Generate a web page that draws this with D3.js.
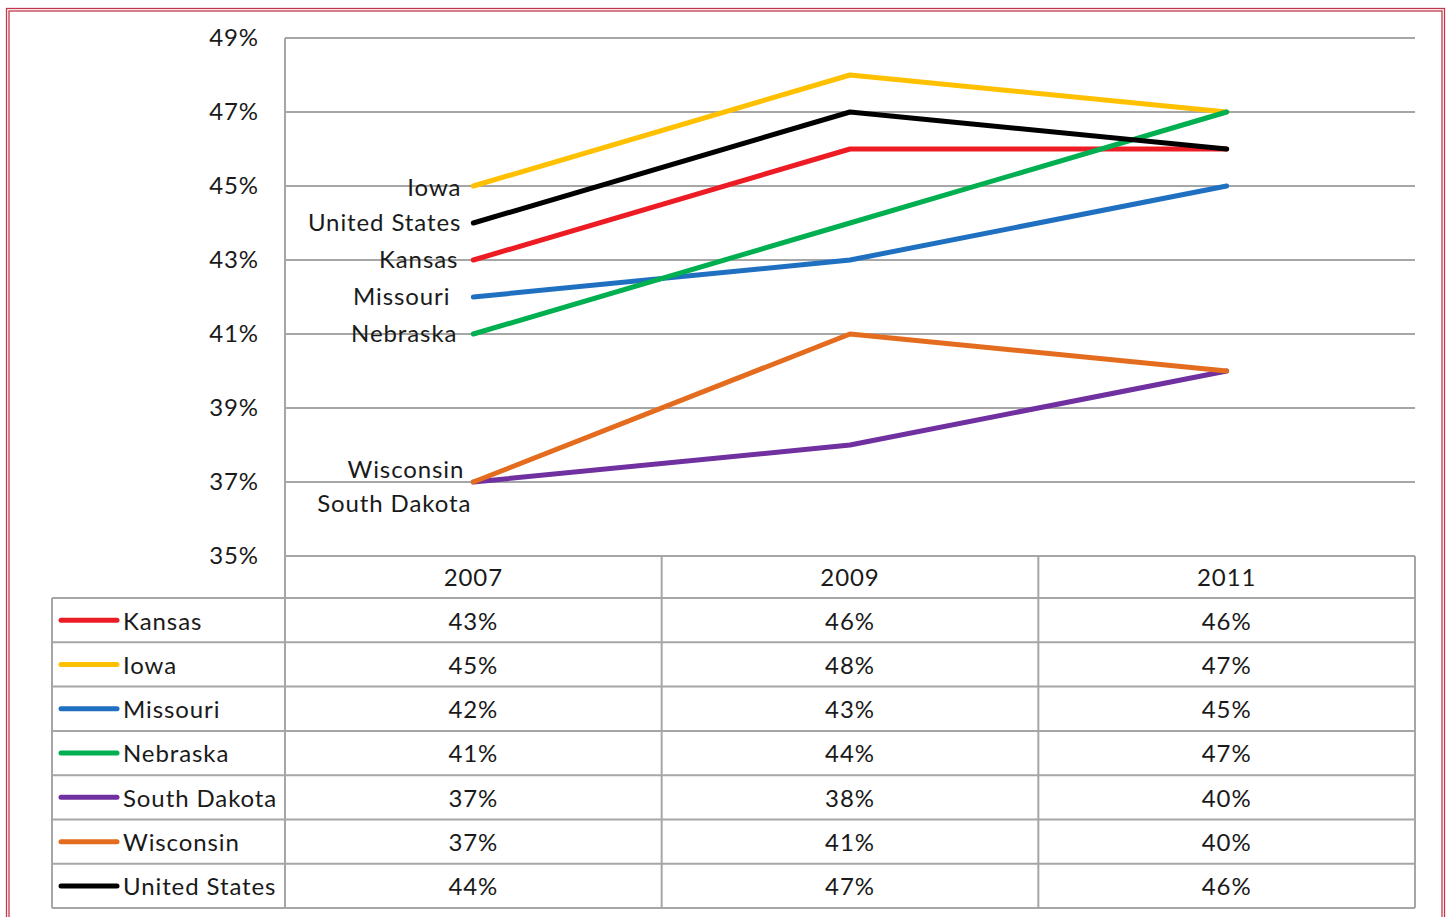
<!DOCTYPE html>
<html>
<head>
<meta charset="utf-8">
<script src="https://cdn.jsdelivr.net/npm/d3@7"></script>
<style>
  body { margin: 0; background: #fff; }
  text { font-family: Lato, "Open Sans", sans-serif; fill: #1a1a1a; font-size: 24px; letter-spacing: 0.9px; }
</style>
</head>
<body>
<svg id="chart" width="1448" height="917"></svg>
<script>
// data
var years = ["2007", "2009", "2011"];
var states = ["Kansas", "Iowa", "Missouri", "Nebraska", "South Dakota", "Wisconsin", "United States"];
var kansas = [43, 46, 46];
var iowa = [45, 48, 47];
var missouri = [42, 43, 45];
var nebraska = [41, 44, 47];
var southDakota = [37, 38, 40];
var wisconsin = [37, 41, 40];
var unitedStates = [44, 47, 46];
var colors = ["#ED1C24", "#FFC000", "#1F70C1", "#00B050", "#7030A0", "#E46C1E", "#000000"];
var yTicks = [35, 37, 39, 41, 43, 45, 47, 49];
// label nudges for the 2007 end labels [dx, dy]
var labelNudge = [[-15, 0], [-12, 2], [-23, 0], [-16, 0], [-2, 22], [-9, -12], [-12, 0]];

var series = [kansas, iowa, missouri, nebraska, southDakota, wisconsin, unitedStates];

var svg = d3.select("#chart");
var plotL = 285, plotR = 1415, plotT = 38, plotB = 556;
var tableLeft = 52, rowH = 44.3, headH = 42;
var grid = "#A6A6A6";

// page frame
svg.append("rect").attr("x", 6.5).attr("y", 8.5).attr("width", 1438).attr("height", 940)
    .attr("fill", "none").attr("stroke", "#C0394B").attr("stroke-width", 1.3);
svg.append("rect").attr("x", 9).attr("y", 11).attr("width", 1433).attr("height", 940)
    .attr("fill", "none").attr("stroke", "#C0394B").attr("stroke-width", 1.3);

var x = d3.scaleBand().domain(years).range([plotL, plotR]);
var y = d3.scaleLinear().domain([35, 49]).range([plotB, plotT]);

// gridlines
svg.append("g").selectAll("line").data(yTicks).enter().append("line")
    .attr("x1", plotL).attr("x2", plotR)
    .attr("y1", function (d) { return y(d); }).attr("y2", function (d) { return y(d); })
    .attr("stroke", grid).attr("stroke-width", 2);

svg.append("line").attr("x1", plotL).attr("x2", plotL).attr("y1", plotT).attr("y2", plotB)
    .attr("stroke", grid).attr("stroke-width", 2);

// y labels
svg.append("g").selectAll("text").data(yTicks).enter().append("text")
    .attr("x", 259).attr("y", function (d) { return y(d); })
    .attr("dy", "0.35em").attr("text-anchor", "end")
    .text(function (d) { return d + "%"; });

// lines
var line = d3.line()
    .x(function (d, i) { return x(years[i]) + x.bandwidth() / 2; })
    .y(function (d) { return y(d); });

svg.append("g").selectAll("path").data(series).enter().append("path")
    .attr("d", line)
    .attr("fill", "none")
    .attr("stroke", function (d, i) { return colors[i]; })
    .attr("stroke-width", 5)
    .attr("stroke-linecap", "round")
    .attr("stroke-linejoin", "round");

// end labels at 2007
svg.append("g").selectAll("text").data(series).enter().append("text")
    .attr("x", function (d, i) { return x(years[0]) + x.bandwidth() / 2 + labelNudge[i][0]; })
    .attr("y", function (d, i) { return y(d[0]) + labelNudge[i][1]; })
    .attr("dy", "0.35em")
    .attr("text-anchor", "end")
    .text(function (d, i) { return states[i]; });

// data table
var tableBottom = plotB + headH + rowH * states.length;
var tbl = svg.append("g");

// header
tbl.selectAll("text.head").data(years).enter().append("text")
    .attr("class", "head")
    .attr("x", function (d) { return x(d) + x.bandwidth() / 2; })
    .attr("y", plotB + headH / 2 + 1)
    .attr("dy", "0.35em").attr("text-anchor", "middle")
    .text(function (d) { return d; });

// horizontal rules
var rules = d3.range(states.length + 1);
tbl.selectAll("line.h").data(rules).enter().append("line")
    .attr("x1", tableLeft).attr("x2", plotR)
    .attr("y1", function (d) { return plotB + headH + d * rowH; })
    .attr("y2", function (d) { return plotB + headH + d * rowH; })
    .attr("stroke", grid).attr("stroke-width", 2);

// vertical rules
var cols = years.map(function (d) { return x(d); }).concat([plotR]);
tbl.selectAll("line.v").data(cols).enter().append("line")
    .attr("x1", function (d) { return d; }).attr("x2", function (d) { return d; })
    .attr("y1", plotB).attr("y2", tableBottom)
    .attr("stroke", grid).attr("stroke-width", 2);
tbl.append("line").attr("x1", tableLeft).attr("x2", tableLeft)
    .attr("y1", plotB + headH).attr("y2", tableBottom)
    .attr("stroke", grid).attr("stroke-width", 2);

// rows
var rows = tbl.selectAll("g.row").data(series).enter().append("g")
    .attr("transform", function (d, i) { return "translate(0," + (plotB + headH + rowH * i + rowH / 2) + ")"; });

rows.append("line")
    .attr("x1", 61).attr("x2", 117).attr("y1", 0).attr("y2", 0)
    .attr("stroke", function (d, i) { return colors[i]; })
    .attr("stroke-width", 5).attr("stroke-linecap", "round");

rows.append("text")
    .attr("x", 123).attr("y", 1).attr("dy", "0.35em")
    .text(function (d, i) { return states[i]; });

rows.selectAll("text.val").data(function (d) { return d; }).enter().append("text")
    .attr("class", "val")
    .attr("x", function (d, i) { return x(years[i]) + x.bandwidth() / 2; })
    .attr("y", 1).attr("dy", "0.35em").attr("text-anchor", "middle")
    .text(function (d) { return d + "%"; });
</script>
</body>
</html>
